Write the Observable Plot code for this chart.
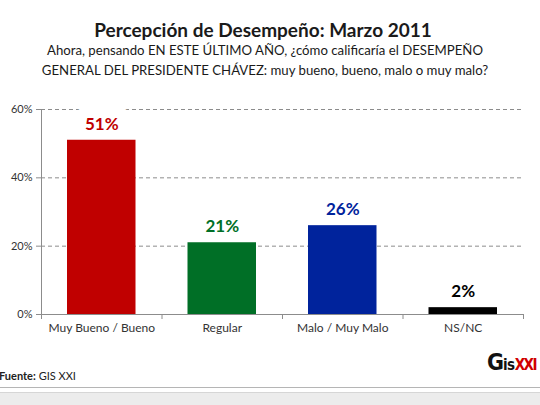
<!DOCTYPE html>
<html>
<head>
<meta charset="utf-8">
<script src="https://cdn.jsdelivr.net/npm/d3@7"></script>
<script src="https://cdn.jsdelivr.net/npm/@observablehq/plot@0.6"></script>
<style>
  html, body { margin: 0; padding: 0; background: #fff; }
  body { width: 540px; height: 405px; position: relative; overflow: hidden; font-family: Lato, "Open Sans", sans-serif; color: #1a1a1a; }
  #title { position: absolute; left: 0; width: 526px; top: 18px; text-align: center; font-weight: bold; font-size: 19px; }
  #subtitle { position: absolute; left: 0; width: 530px; top: 40px; text-align: center; font-size: 13.2px; line-height: 20px; }
  #chart { position: absolute; left: 0; top: 95px; }
  #source { position: absolute; left: -1px; top: 369px; font-size: 11px; color: #222; }
  #logo { position: absolute; left: 487px; top: 349px; font-weight: bold; white-space: nowrap; font-family: "DejaVu Sans Condensed", "Liberation Sans Narrow", sans-serif; }
  #logo .g { font-size: 23px; color: #111; letter-spacing: -1px; }
  #logo .is { font-size: 15px; color: #111; letter-spacing: -0.5px; }
  #logo .xxi { font-size: 15px; color: #d00000; letter-spacing: -1.5px; }
  #rule { position: absolute; left: 0; top: 387px; width: 540px; height: 1px; background: #b5b5b5; }
  #band { position: absolute; left: 0; top: 392px; width: 540px; height: 13px; background: #ececec; border-top: 1px solid #d6d6d6; }
</style>
</head>
<body>
<div id="title">Percepción de Desempeño: Marzo 2011</div>
<div id="subtitle">Ahora, pensando EN ESTE ÚLTIMO AÑO, ¿cómo calificaría el DESEMPEÑO<br>GENERAL DEL PRESIDENTE CHÁVEZ: muy bueno, bueno, malo o muy malo?</div>
<div id="chart"></div>
<div id="source"><b>Fuente:</b> GIS XXI</div>
<div id="logo"><span class="g">G</span><span class="is">is</span><span class="xxi">XXI</span></div>
<div id="rule"></div>
<div id="band"></div>
<script>
const categories = ["Muy Bueno / Bueno", "Regular", "Malo / Muy Malo", "NS/NC"];
const values = [0.51, 0.21, 0.26, 0.02];
const labels = ["51%", "21%", "26%", "2%"];
const colors = ["#c00000", "#006f26", "#00239c", "#000000"];
const yTicks = [0, 0.2, 0.4, 0.6];

const data = categories.map((c, i) => ({i, c, v: values[i], label: labels[i], color: colors[i]}));

const chart = Plot.plot({
  width: 540,
  height: 245,
  marginLeft: 41,
  marginRight: 17,
  marginTop: 14,
  marginBottom: 26,
  style: {fontFamily: "Lato, 'Open Sans', sans-serif", fontSize: "11px", color: "#333", background: "transparent"},
  x: {domain: [0, categories.length], axis: null},
  y: {domain: [0, 0.6], axis: null},
  marks: [
    Plot.gridY(yTicks.filter(d => d > 0), {stroke: "#8c8c8c", strokeOpacity: 1, strokeDasharray: "4,3"}),
    // white halo behind labels (masks gridlines as in the data-label boxes)
    Plot.text(data, {x: d => d.i + 0.5, y: "v", text: "label", dy: -16, fontSize: 17, fontWeight: "bold", fill: "white", stroke: "white", strokeWidth: 24, strokeLinejoin: "round"}),
    Plot.rectY(data, {x1: "i", x2: d => d.i + 1, y: "v", fill: "color", insetLeft: 26, insetRight: 26}),
    Plot.text(data, {x: d => d.i + 0.5, y: "v", text: "label", dy: -16, fontSize: 17, fontWeight: "bold", fill: "color"}),
    Plot.ruleX([0], {stroke: "#8c8c8c"}),
    Plot.ruleY([0], {stroke: "#8c8c8c"}),
    Plot.axisY(yTicks, {label: null, tickSize: 5, tickPadding: 4, tickFormat: d => Math.round(d * 100) + "%", stroke: "#8c8c8c", fill: "#333", fontSize: 11}),
    Plot.axisX(d3.range(categories.length + 1), {label: null, tickSize: 5, tickFormat: () => "", stroke: "#8c8c8c"}),
    Plot.axisX(d3.range(categories.length).map(i => i + 0.5), {label: null, tickSize: 0, tickPadding: 9, tickFormat: d => categories[Math.floor(d)], fill: "#333", fontSize: 12})
  ]
});
document.getElementById("chart").appendChild(chart);
</script>
</body>
</html>
